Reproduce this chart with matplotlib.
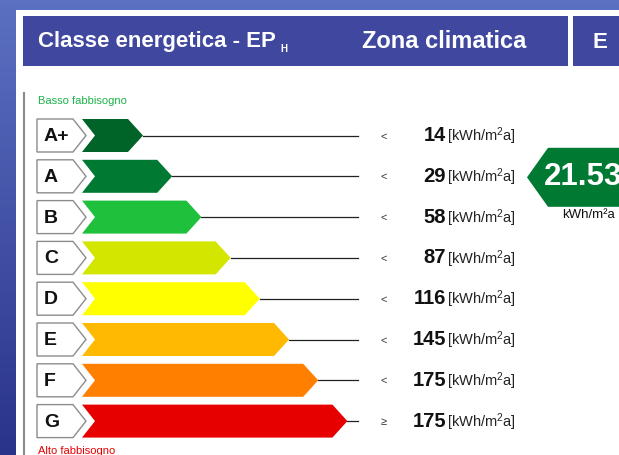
"""
Classe energetica - EP_H label.
"""

# =====================================================
# IMPORT PACKAGES
# =====================================================

import numpy as np
import matplotlib
matplotlib.use("Agg")
import matplotlib.pyplot as plt
from matplotlib.patches import Polygon, Rectangle

plt.rcParams["mathtext.fontset"] = "custom"
plt.rcParams["mathtext.rm"] = "Liberation Sans"
plt.rcParams["mathtext.it"] = "Liberation Sans"
plt.rcParams["mathtext.bf"] = "Liberation Sans:bold"


# =====================================================
# DATA
# =====================================================

classes = ["A+", "A", "B", "C", "D", "E", "F", "G"]

limits = [14, 29, 58, 87, 116, 145, 175, 175]

operators = ["<", "<", "<", "<", "<", "<", "<", "≥"]

colors = [
    "#006428", "#007A33", "#1EC03C", "#D2E600",
    "#FFFF00", "#FFB900", "#FF7F00", "#E60000"
]

unit_label = r"[kWh/m$^\mathrm{2}$a]"

value = 21.53
value_class = "A"
value_unit = "kWh/m²a"

zona = "E"

FONT = ["Liberation Sans", "DejaVu Sans"]
NARROW = ["Liberation Sans Narrow", "Liberation Sans", "DejaVu Sans"]


# =====================================================
# FIGURE (pixel coordinates)
# =====================================================

W, H = 619, 455

fig = plt.figure(figsize=(W / 100, H / 100), dpi=100)

ax = fig.add_axes([0, 0, 1, 1])
ax.set_xlim(0, W)
ax.set_ylim(H, 0)
ax.axis("off")

# blue background gradient
grad = np.linspace(0, 1, 100)[:, None]
bg = np.zeros((100, 1, 3))
bg[:, 0, 0] = 0.36 - 0.20 * grad[:, 0]
bg[:, 0, 1] = 0.44 - 0.24 * grad[:, 0]
bg[:, 0, 2] = 0.76 - 0.22 * grad[:, 0]
ax.imshow(bg, extent=[0, W, H, 0], aspect="auto", zorder=0)

# white panel
ax.add_patch(Rectangle((16, 10), W, H, facecolor="white",
                       edgecolor="none", zorder=1))

# header boxes
head_col = "#3F479E"
ax.add_patch(Rectangle((23, 16), 545, 50, facecolor=head_col,
                       edgecolor="none", zorder=2))
ax.add_patch(Rectangle((573, 16), 60, 50, facecolor=head_col,
                       edgecolor="none", zorder=2))

ax.text(38, 42, "Classe energetica - EP", color="white", fontsize=16,
        fontweight="bold", family=FONT, va="center", ha="left", zorder=3)
ax.text(280, 49, "H", color="white", fontsize=7, fontweight="bold",
        family=FONT, va="center", ha="left", zorder=3)
ax.text(362, 42, "Zona climatica", color="white", fontsize=17,
        fontweight="bold", family=FONT, va="center", ha="left", zorder=3)
ax.text(593, 42, zona, color="white", fontsize=16,
        fontweight="bold", family=FONT, va="center", ha="left", zorder=3)

# left gray rule
ax.plot([24, 24], [93, H], color="#8A8A8A", lw=1.5, zorder=2)

ax.text(38, 101, "Basso fabbisogno", color="#1DB34A", fontsize=8,
        family=NARROW, va="center", ha="left", zorder=3)
ax.text(38, 451, "Alto fabbisogno", color="#E60000", fontsize=8,
        family=NARROW, va="center", ha="left", zorder=3)


# =====================================================
# CLASS ROWS
# =====================================================

row0, row_step = 135.5, 40.8
half = 16.5
head = 15
bar_x0, bar_step0, bar_step = 82, 61, 29.2

for i, (cls, lim, op, col) in enumerate(
        zip(classes, limits, operators, colors)):

    yc = row0 + i * row_step
    top, bot = yc - half, yc + half

    # letter box
    box = Polygon(
        [(37, top), (73, top), (86, yc), (73, bot), (37, bot)],
        closed=True, facecolor="white", edgecolor="#8C8C8C",
        lw=1.0, zorder=3
    )
    ax.add_patch(box)

    ax.text(44, yc + 1, cls, fontsize=14, fontweight="bold",
            family=FONT, color="#111111", va="center", ha="left",
            zorder=4)

    # coloured arrow bar
    tip = bar_x0 + bar_step0 + i * bar_step
    bar = Polygon(
        [(bar_x0, top), (tip - head, top), (tip, yc),
         (tip - head, bot), (bar_x0, bot), (bar_x0 + 13, yc)],
        closed=True, facecolor=col, edgecolor="none", zorder=3
    )
    ax.add_patch(bar)

    ax.plot([tip, 358], [yc, yc], color="#222222", lw=0.9, zorder=2)

    # limit text
    ax.text(384, yc + 1, op, fontsize=8, family=FONT,
            color="#333333", va="center", ha="center", zorder=4)
    ax.text(446, yc, str(lim), fontsize=14.5, fontweight="bold",
            family=FONT, color="#111111", va="center", ha="right",
            zorder=4)
    ax.text(447, yc + 1, unit_label, fontsize=10.5, family=NARROW,
            color="#222222", va="center", ha="left", zorder=4)


# =====================================================
# VALUE INDICATOR
# =====================================================

vi = classes.index(value_class)
vy = row0 + vi * row_step + 1

ind = Polygon(
    [(527, vy), (548, vy - 29.5), (W + 5, vy - 29.5),
     (W + 5, vy + 29.5), (548, vy + 29.5)],
    closed=True, facecolor=colors[vi], edgecolor="none", zorder=3
)
ax.add_patch(ind)

ax.text(544, vy, f"{value:.2f}", fontsize=22.5, fontweight="bold",
        family=FONT, color="white", va="center", ha="left", zorder=4)

ax.text(562, vy + 38, value_unit, fontsize=9.5, family=FONT,
        color="#111111", va="center", ha="left", zorder=4)

fig.savefig("out.png", dpi=100)
